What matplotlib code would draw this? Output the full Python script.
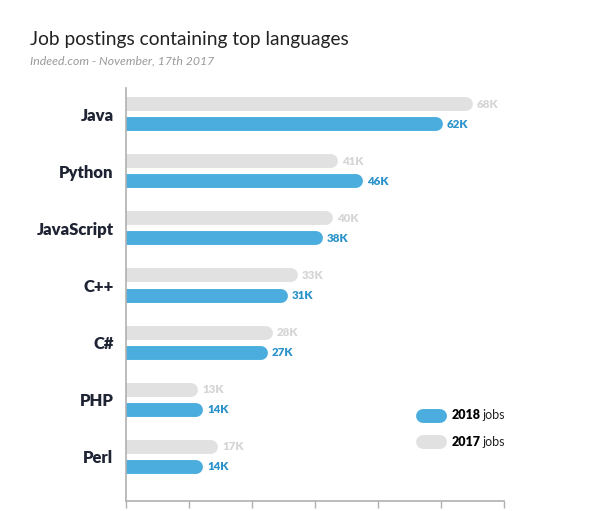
import matplotlib.pyplot as plt
import numpy as np

languages = ["Java", "Python", "JavaScript", "C++", "C#", "PHP", "Perl"]
jobs_2017 = [68, 41, 40, 33, 28, 13, 17]
jobs_2018 = [62, 46, 38, 31, 27, 14, 14]

BLUE = "#4aaddd"
BLUE_TXT = "#2b93c9"
GREY = "#e1e1e1"
GREY_TXT = "#d5d5d5"
DARK = "#1e2433"

plt.rcParams["font.family"] = ["Lato", "DejaVu Sans"]

fig = plt.figure(figsize=(6.01, 5.11), dpi=100)
ax = fig.add_axes([126 / 601, 1 - 501 / 511, (504 - 126) / 601, (501 - 88) / 511])

y = np.arange(len(languages))
off = 0.175
lw = 10
xmax = 75.6

ax.hlines(y - off, 0, jobs_2017, color=GREY, linewidth=lw)
ax.hlines(y + off, 0, jobs_2018, color=BLUE, linewidth=lw)
for line in ax.collections:
    line.set_capstyle("round")

for i, (a, b) in enumerate(zip(jobs_2017, jobs_2018)):
    ax.annotate(f"{a}K", (a, i - off), xytext=(8, 0), textcoords="offset points",
                va="center", ha="left", fontsize=8.3, fontweight="heavy", color=GREY_TXT)
    ax.annotate(f"{b}K", (b, i + off), xytext=(8, 0), textcoords="offset points",
                va="center", ha="left", fontsize=8.3, fontweight="heavy", color=BLUE_TXT)

ax.set_xlim(0, xmax)
ax.set_ylim(6.77, -0.455)
ax.set_xticks(np.linspace(0, xmax, 7))
ax.set_xticklabels([])
ax.set_yticks(y)
ax.set_yticklabels(languages, fontsize=12, fontweight="heavy", color=DARK)
ax.tick_params(axis="y", length=0, pad=9)
ax.tick_params(axis="x", direction="out", length=5, width=1, color="#b0b0b0")

for s in ["top", "right"]:
    ax.spines[s].set_visible(False)
for s in ["left", "bottom"]:
    ax.spines[s].set_color("#b0b0b0")
    ax.spines[s].set_linewidth(1.2)

# legend
ax.plot([0.785, 0.83], [0.207, 0.207], transform=ax.transAxes, color=BLUE,
        linewidth=lw, solid_capstyle="round")
ax.plot([0.785, 0.83], [0.142, 0.142], transform=ax.transAxes, color=GREY,
        linewidth=lw, solid_capstyle="round")
fig.text(452 / 601, 1 - 415 / 511, "2018", fontsize=9, fontweight="heavy", color="black", va="center")
fig.text(482 / 601, 1 - 415 / 511, "jobs", fontsize=9, color="#222222", va="center")
fig.text(452 / 601, 1 - 442 / 511, "2017", fontsize=9, fontweight="heavy", color="black", va="center")
fig.text(482 / 601, 1 - 442 / 511, "jobs", fontsize=9, color="#222222", va="center")

fig.text(30 / 601, 1 - 40 / 511, "Job postings containing top languages",
         fontsize=13.8, color="#222222", va="center")
fig.text(30 / 601, 1 - 61 / 511, "Indeed.com - November, 17th 2017",
         fontsize=8.8, style="italic", color="#9a9a9a", va="center")

fig.savefig("out.png", dpi=100)
